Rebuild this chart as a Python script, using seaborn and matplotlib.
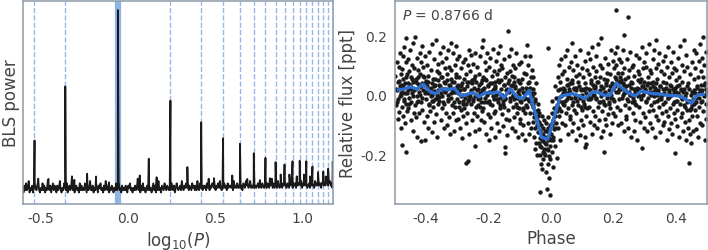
import numpy as np
import pandas as pd
import matplotlib
matplotlib.use('Agg')
import matplotlib.pyplot as plt
import seaborn as sns

BLUE = '#2f6fcf'
BAND = '#8fb5e6'
DASH = '#94b8ea'
TEXT = '#444444'
EDGE = '#8d9aa7'

# best period [days] and the multiples marked with dashed lines
period = 0.8766
harmonic_mult = [1 / 3, 1 / 2] + list(range(2, 18))
log_p_range = [np.log10(0.25), np.log10(15.0)]

# BLS noise floor (power x 80), read left -> right
bls_noise = [
    3, 1, 4, 2, 5, 2, 3, 6, 1, 3, 2, 4, 1, 3, 5, 3, 2, 4, 7, 2,
    1, 3, 2, 5, 2, 4, 1, 3, 2, 6, 3, 2, 4, 1, 3, 5, 2, 4, 3, 1,
    4, 2, 3, 6, 2, 1, 3, 2, 5, 3, 2, 5, 1, 3, 4, 2, 3, 8, 2, 3,
    1, 3, 4, 2, 3, 1, 5, 2, 4, 2, 3, 2, 5, 3, 1, 4, 2, 3, 6, 2,
    2, 4, 1, 3, 2, 5, 3, 1, 4, 3, 5, 2, 3, 1, 4, 2, 6, 3, 2, 4,
    1, 3, 2, 4, 3, 1, 3, 2, 5, 2, 3, 6, 2, 3, 1, 4, 2, 3, 2, 4,
    2, 1, 4, 3, 5, 2, 3, 1, 3, 2, 4, 2, 3, 7, 2, 3, 1, 4, 2, 5,
    2, 3, 1, 3, 4, 2, 5, 2, 3, 1, 3, 5, 2, 4, 1, 3, 2, 6, 2, 3,
    1, 4, 3, 2, 5, 3, 2, 4, 3, 2, 4, 2, 5, 3, 2, 4, 1, 3, 5, 3,
    2, 3, 4, 2, 6, 3, 2, 4, 3, 5, 3, 5, 2, 4, 3, 2, 5, 3, 4, 2,
    4, 2, 6, 3, 2, 5, 3, 4, 2, 4, 3, 4, 2, 5, 3, 7, 2, 4, 3, 5,
    5, 3, 4, 2, 4, 3, 5, 3, 6, 3, 2, 4, 3, 5, 3, 4, 2, 5, 3, 4,
    4, 3, 5, 2, 6, 3, 4, 3, 5, 3, 3, 5, 3, 4, 2, 5, 4, 3, 6, 4,
    5, 3, 4, 6, 3, 4, 3, 5, 3, 4, 3, 4, 5, 3, 6, 4, 3, 5, 4, 3,
    4, 6, 3, 5, 4, 3, 5, 4, 7, 3, 5, 3, 4, 5, 3, 6, 4, 3, 5, 4,
    3, 5, 4, 6, 4, 3, 5, 4, 3, 6, 4, 6, 3, 5, 4, 5, 3, 6, 4, 5,
    5, 4, 6, 3, 5, 4, 6, 4, 5, 3, 4, 5, 3, 6, 4, 5, 4, 3, 6, 4,
    5, 4, 6, 4, 5, 3, 5, 6, 4, 5, 4, 6, 5, 4, 5, 6, 4, 5, 3, 5,
]

# BLS spikes: log10(period) and power
peak_logp = [-0.534, -0.454, -0.358, -0.306, -0.233, -0.182, -0.107, -0.057,
             0.068, 0.120, 0.165, 0.244, 0.341, 0.420, 0.493, 0.545, 0.598,
             0.642, 0.684, 0.721, 0.756, 0.788, 0.813, 0.846, 0.875, 0.897,
             0.925, 0.943, 0.967, 0.984, 1.008, 1.022, 1.043, 1.057, 1.089,
             1.119, 1.133, 1.147, 1.173]
peak_power = [0.294, 0.086, 0.587, 0.081, 0.114, 0.099, 0.068, 1.0,
              0.105, 0.195, 0.095, 0.510, 0.150, 0.393, 0.09, 0.306, 0.105,
              0.276, 0.086, 0.225, 0.08, 0.200, 0.09, 0.177, 0.11, 0.164,
              0.11, 0.182, 0.10, 0.184, 0.11, 0.182, 0.10, 0.153, 0.123,
              0.126, 0.10, 0.141, 0.180]

# folded light curve: (phase x1000, flux x1000 ppt)
lc_points = [
    (-499, 62), (-497, -35), (-495, 110), (-494, 18), (-492, -80), (-491, 45), (-489, -12), (-488, 95),
    (-486, -58), (-485, 30), (-484, 140), (-483, -5), (-482, -110), (-481, 70), (-480, 5), (-477, -168),
    (-479, 88), (-478, -40), (-476, 25), (-475, 130), (-474, -70), (-473, 55), (-471, -15), (-470, 160),
    (-469, 8), (-468, -95), (-467, 40), (-466, 112), (-465, -30), (-464, 192), (-464, -190), (-462, 70), (-461, -55),
    (-459, 15), (-458, 120), (-457, -45), (-455, 80), (-454, -10), (-453, 150), (-452, 35), (-450, -85),
    (-449, 60), (-448, -25), (-446, 100), (-445, 5), (-443, -120), (-442, 45), (-441, 175), (-440, -60),
    (-439, 90), (-437, -35), (-436, 20), (-435, 195), (-434, -75), (-432, 55), (-431, -5), (-430, 125),
    (-429, -140), (-427, 38), (-426, -20), (-425, 85), (-423, 10), (-422, -62), (-421, 140), (-420, 28),
    (-419, 70), (-418, -25), (-416, 110), (-416, -154), (-415, 40), (-413, 165), (-412, -50), (-411, 15),
    (-409, 95), (-408, -90), (-406, 60), (-405, 5), (-404, 130), (-403, -150), (-402, 48), (-401, -15),
    (-399, 30), (-398, -70), (-397, 100), (-395, 8), (-394, -110), (-393, 65), (-391, -30), (-390, 145),
    (-389, 20), (-387, -55), (-386, 85), (-385, -5), (-383, 170), (-382, -125), (-381, 40), (-380, -20),
    (-379, 55), (-378, -40), (-376, 12), (-375, 120), (-374, -90), (-372, 35), (-371, -15), (-369, 184),
    (-368, -65), (-367, 80), (-365, 0), (-364, -140), (-363, 50), (-362, -30), (-361, 105), (-360, -8),
    (-359, 75), (-358, -20), (-356, 140), (-355, 30), (-354, -85), (-352, 60), (-351, -5), (-349, 110),
    (-348, -45), (-347, 20), (-345, 160), (-344, -110), (-343, 45), (-342, -30), (-341, 90), (-340, 10),
    (-339, 40), (-338, -60), (-337, 125), (-335, 15), (-334, -100), (-333, 70), (-331, -20), (-330, 150),
    (-329, 0), (-327, -75), (-326, 95), (-325, 30), (-323, -130), (-322, 55), (-321, -10), (-320, 175),
    (-319, 85), (-318, -35), (-316, 20), (-315, 140), (-314, -60), (-312, 45), (-311, -120), (-309, 100),
    (-308, 10), (-307, -40), (-305, 165), (-304, 60), (-303, -85), (-302, 25), (-301, 120), (-300, -15),
    (-299, 35), (-298, -80), (-296, 60), (-295, -25), (-294, 130), (-292, -110), (-291, 15), (-289, -50),
    (-288, 90), (-287, -5), (-285, -145), (-284, 40), (-283, -30), (-282, 110), (-281, -70), (-280, 20),
    (-279, 55), (-278, -45), (-276, 120), (-275, -10), (-274, -95), (-272, 70), (-271, -228), (-270, 30),
    (-269, -60), (-267, 100), (-266, -20), (-265, -221), (-264, 150), (-263, -130), (-262, 45), (-261, -5),
    (-259, 80), (-258, -30), (-256, 15), (-255, 135), (-254, -85), (-252, 50), (-251, -15), (-249, 105),
    (-248, -60), (-247, 25), (-245, -120), (-244, -170), (-243, 65), (-242, 140), (-241, -40), (-240, 0),
    (-239, 45), (-238, -70), (-236, 95), (-235, -15), (-234, 20), (-232, -115), (-231, 70), (-229, -40),
    (-228, 130), (-227, 5), (-225, -85), (-224, 40), (-223, -25), (-222, 160), (-221, -55), (-220, 15),
    (-219, 60), (-218, -45), (-217, 184), (-215, 25), (-214, -90), (-212, 110), (-211, -10), (-209, 50),
    (-208, -130), (-207, 85), (-205, -25), (-204, 140), (-203, 5), (-202, -65), (-201, 35), (-200, -150),
    (-199, 95), (-198, -20), (-196, 40), (-195, -75), (-194, 125), (-192, 10), (-191, -110), (-189, 65),
    (-188, -35), (-187, 155), (-185, -5), (-184, -60), (-183, 80), (-182, 20), (-181, -140), (-180, 45),
    (-179, 30), (-178, -55), (-176, 115), (-175, 0), (-174, -95), (-172, 70), (-171, -25), (-169, 140),
    (-168, 45), (-167, -120), (-165, 85), (-164, -10), (-163, 165), (-162, -45), (-161, 20), (-160, 100),
    (-159, 50), (-158, -65), (-156, 90), (-155, -20), (-154, -105), (-152, 35), (-151, -40), (-149, 120),
    (-148, -10), (-147, -195), (-147, -176), (-146, 60), (-145, -80), (-143, 15), (-142, -135), (-141, 75),
    (-139, 214), (-138, 40), (-137, -50), (-135, 130), (-134, 10), (-133, -85), (-131, 80), (-130, -20),
    (-129, 155), (-127, 30), (-126, -110), (-125, 65), (-123, -5), (-122, 100), (-121, -40), (-120, 45),
    (-119, 60), (-118, -75), (-116, 25), (-115, -120), (-114, 90), (-112, -30), (-111, 140), (-109, -10),
    (-108, -60), (-107, 50), (-105, -140), (-104, 15), (-103, 105), (-102, -45), (-101, 0), (-100, -95),
    (-99, 40), (-98, -80), (-96, 110), (-95, -25), (-94, -130), (-92, 55), (-91, -50), (-89, 10),
    (-88, -100), (-87, 75), (-85, -15), (-84, -150), (-83, 130), (-82, -60), (-81, 25), (-80, -35),
    (-79, 70), (-78, -40), (-77, 169), (-76, 20), (-75, -95), (-73, 100), (-72, -15), (-71, -130),
    (-69, 45), (-68, -60), (-67, 130), (-65, 5), (-64, -110), (-63, 60), (-62, -30), (-61, 85),
    (-59, 20), (-58, -90), (-57, 60), (-56, -40), (-55, -140), (-54, 5), (-53, -75), (-52, -180), (-51, -20),
    (-50, -110), (-49, 40), (-48, -160), (-47, -55), (-45, -100), (-44, -200), (-43, -30), (-42, -125), (-41, -70),
    (-39, -90), (-38, -160), (-37, -60), (-36, -200), (-35, -120), (-34, -324), (-34, -145), (-33, -230),
    (-32, -100), (-31, -175), (-30, -70), (-29, -250), (-28, -130), (-27, -190), (-26, -110), (-25, -155),
    (-24, -215), (-23, -85), (-22, -140), (-21, -180),
    (-19, -120), (-18, -200), (-17, -95), (-16, -165), (-15, -260), (-14, -140), (-13, -315), (-12, -180),
    (-11, -110), (-10, 158), (-10, -230), (-9, -150), (-8, -75), (-7, -205), (-6, -125), (-5, -280),
    (-4, -170), (-3, -100), (-2, -335), (-1, -150),
    (1, -130), (2, -60), (3, -190), (4, -100), (5, -20), (6, -240), (7, -85), (8, -150), (9, -45),
    (10, -115), (12, 30), (13, -70), (14, -170), (15, -10), (16, -95), (18, -55), (19, -210),
    (21, -40), (22, 60), (23, -110), (24, 15), (25, -70), (26, 100), (27, -20), (28, -150),
    (29, 45), (31, -55), (32, 120), (33, -5), (35, -95), (36, 70), (38, -30), (39, 25),
    (41, 80), (42, -35), (43, 20), (45, -100), (46, 130), (47, 5), (48, -60), (50, 55),
    (51, -15), (52, 150), (54, -130), (55, 35), (56, -45), (58, 95), (59, 10), (60, -80),
    (61, 40), (62, -70), (64, 110), (65, -10), (66, -120), (68, 175), (68, 50), (69, -35),
    (71, 85), (72, -95), (74, 20), (75, -50), (76, 130), (78, 0), (79, -150), (80, 65),
    (81, 25), (82, -60), (84, 100), (85, -20), (86, 45), (88, -110), (89, 70), (91, -5),
    (92, -135), (94, 150), (95, -40), (96, 15), (98, -85), (99, 90), (100, 0),
    (101, -50), (102, 60), (104, -100), (105, 20), (106, -30), (108, 115), (109, -140), (110, -176),
    (110, 40), (112, -70), (113, 5), (114, -165), (116, 85), (117, -45), (119, 140), (120, -15),
    (121, 70), (122, -40), (124, 15), (125, 120), (126, -90), (128, 50), (129, -10), (131, 160),
    (132, -130), (134, 35), (135, -55), (136, 95), (138, 0), (139, -100), (140, 60),
    (141, 25), (142, -70), (144, 130), (145, -15), (146, 80), (148, -110), (149, 45), (151, -40),
    (152, 170), (154, 10), (155, -85), (156, 100), (158, -25), (159, 60), (160, -140),
    (161, 192), (162, 30), (163, -55), (165, 90), (166, -20), (168, -120), (169, 55), (170, -190),
    (171, 5), (172, -80), (174, 125), (175, -35), (176, 40), (178, -100), (179, 75), (180, -10),
    (181, 50), (182, -65), (184, 105), (185, -25), (186, 15), (188, -130), (189, 70), (191, -45),
    (192, 150), (194, 0), (195, -95), (196, 40), (198, -15), (199, 115), (200, -60),
    (201, 90), (202, -20), (204, 140), (205, 30), (206, -70), (208, 100), (209, 284), (210, 55),
    (211, -40), (212, 160), (214, 10), (215, -100), (216, 75), (218, 120), (219, -15), (220, 45),
    (221, 60), (222, -50), (224, 110), (225, 20), (226, -95), (228, 75), (229, -10), (231, 150),
    (232, 40), (234, 200), (234, -120), (235, 5), (236, 90), (238, -35), (239, 55), (240, -70),
    (241, 30), (242, -80), (244, 120), (245, -15), (246, 60), (248, 262), (248, -110), (249, 10),
    (251, 85), (252, -45), (254, 145), (255, 0), (256, -140), (258, 45), (259, -25), (260, 95),
    (261, 40), (262, -60), (264, 100), (265, -20), (266, -120), (268, 65), (269, 10), (271, -85),
    (272, 135), (274, -35), (275, 25), (276, -150), (278, 80), (279, -5), (280, 50),
    (281, 70), (282, -40), (284, 125), (285, 15), (286, -90), (288, 55), (289, -15), (291, 160),
    (292, 30), (293, -179), (294, -60), (295, 90), (296, 0), (298, -110), (299, 45), (300, 110),
    (301, 20), (302, -75), (304, 95), (305, -25), (306, 140), (308, 35), (309, -120), (311, 60),
    (312, -10), (314, 170), (315, -55), (316, 10), (318, 85), (319, -95), (320, 40),
    (321, -35), (322, 75), (324, 10), (325, -110), (326, 120), (328, -50), (329, 45), (331, -5),
    (332, 150), (334, -140), (335, 25), (336, 184), (336, -70), (338, 90), (339, 0), (340, -20),
    (341, 55), (342, -85), (344, 105), (345, 15), (346, -40), (348, 140), (349, -125), (351, 30),
    (352, -15), (354, 80), (355, -60), (356, 0), (358, 115), (359, -100), (360, 45),
    (361, -30), (362, 70), (364, -90), (365, 20), (366, 130), (368, -55), (369, 40), (371, -150),
    (372, 95), (374, -10), (375, 160), (376, -70), (378, 10), (379, 60), (380, -115),
    (381, 35), (382, -45), (384, 110), (385, -95), (386, 0), (388, 75), (389, -130), (391, 20),
    (392, 145), (394, -25), (395, -60), (396, 90), (398, -195), (398, 10), (399, -80), (400, 50),
    (401, -20), (402, 85), (404, -105), (405, 30), (406, -50), (408, 125), (409, 5), (411, -140),
    (412, 60), (414, -30), (415, 165), (416, -75), (418, 15), (419, 100), (420, -10),
    (421, -60), (422, 45), (424, -120), (425, 10), (426, 186), (427, -35), (428, 80), (429, -90),
    (431, -5), (432, 135), (434, -150), (435, 30), (436, -50), (438, 95), (439, -20), (440, -110),
    (441, 40), (442, -85), (444, -228), (444, 20), (445, -130), (446, 70), (448, -45), (449, -160),
    (451, 10), (452, 110), (454, -70), (455, -15), (456, -120), (458, 55), (459, -30), (460, 150),
    (461, -50), (462, 90), (464, -10), (465, -115), (466, 140), (468, 25), (469, -70), (471, 60),
    (472, -140), (474, 115), (475, 5), (476, -40), (478, 170), (479, -95), (480, 35),
    (481, 80), (482, -25), (484, 125), (485, -100), (486, 15), (487, 195), (488, -55), (489, 60),
    (491, -5), (492, 100), (494, -150), (495, 40), (496, -30), (498, 145), (499, -80), (500, 10),
    # densest part of the band
    (-498, 20), (-493, -25), (-487, 48), (-482, 0), (-480, 32),
    (-478, 10), (-474, 35), (-471, -20), (-466, 60), (-462, 5),
    (-458, 40), (-454, -30), (-449, 20), (-446, 55), (-441, -5),
    (-438, 15), (-434, 45), (-429, -25), (-426, 60), (-421, 0),
    (-418, 30), (-414, -10), (-409, 65), (-405, 40), (-401, 10),
    (-398, 10), (-394, 45), (-390, -35), (-386, 25), (-382, 0),
    (-379, -20), (-375, 30), (-371, 55), (-366, -10), (-362, 15),
    (-358, 35), (-354, 5), (-350, 60), (-346, -25), (-342, 20),
    (-338, 20), (-334, 50), (-330, -15), (-326, 35), (-322, 5),
    (-318, 45), (-314, 10), (-310, -25), (-306, 70), (-302, 30),
    (-298, 5), (-294, -40), (-290, 30), (-286, 0), (-282, -20),
    (-278, 20), (-274, -30), (-270, 45), (-266, 0), (-262, -15),
    (-258, 10), (-254, 40), (-250, -20), (-246, 55), (-242, -5),
    (-238, 15), (-234, -35), (-230, 35), (-226, -10), (-222, 50),
    (-218, 20), (-214, -25), (-210, 55), (-206, 0), (-202, 30),
    (-198, 10), (-194, -30), (-190, 40), (-186, 15), (-182, -15),
    (-178, 25), (-174, -15), (-170, 50), (-166, 5), (-162, -35),
    (-158, 0), (-154, -30), (-150, 35), (-146, -15), (-142, 20),
    (-138, 15), (-134, 50), (-130, -10), (-126, 35), (-122, 0),
    (-118, -15), (-114, 30), (-110, -40), (-106, 10), (-102, 45),
    (-98, -20), (-94, 25), (-90, -45), (-86, 5), (-82, -10),
    (-78, 10), (-74, 40), (-70, -20), (-66, 25), (-62, -5),
    (-58, -30), (-54, -60), (-50, -15), (-46, -85), (-42, -50),
    (-38, -125), (-34, -170), (-30, -150), (-26, -135), (-22, -195),
    (-18, -160), (-14, -120), (-10, -185), (-6, -145), (-2, -215),
    (2, -95), (6, -140), (10, -65), (14, -110), (18, -35),
    (22, -10), (26, -45), (30, 20), (34, -25), (38, 5),
    (42, 15), (46, -20), (50, 35), (54, -5), (58, 20),
    (62, 10), (66, 40), (70, -25), (74, 25), (78, -10),
    (82, 15), (86, -35), (90, 30), (94, -10), (98, 20),
    (102, -20), (106, 15), (110, -40), (114, 25), (118, -5),
    (122, 20), (126, -15), (130, 40), (134, 0), (138, 25),
    (142, 30), (146, -10), (150, 45), (154, -25), (158, 15),
    (162, -5), (166, 25), (170, -30), (174, 10), (178, 35),
    (182, 0), (186, -30), (190, 30), (194, -10), (198, 20),
    (202, 35), (206, 60), (210, 10), (214, 45), (218, 20),
    (222, 25), (226, 50), (230, 0), (234, 35), (238, 15),
    (242, 10), (246, -20), (250, 35), (254, 0), (258, 25),
    (262, -10), (266, 20), (270, -30), (274, 15), (278, 0),
    (282, 20), (286, 45), (290, -5), (294, 30), (298, 10),
    (302, 15), (306, -20), (310, 40), (314, 5), (318, 25),
    (322, 0), (326, 30), (330, -25), (334, 15), (338, 40),
    (342, 10), (346, -15), (350, 30), (354, -5), (358, 20),
    (362, 5), (366, -25), (370, 25), (374, -10), (378, 15),
    (382, -5), (386, 30), (390, -30), (394, 10), (398, 25),
    (402, 10), (406, -20), (410, 35), (414, -5), (418, 20),
    (422, -15), (426, 20), (430, -40), (434, 5), (438, -25),
    (442, -20), (446, -50), (450, 0), (454, -35), (458, 15),
    (462, 5), (466, -25), (470, 30), (474, -10), (478, 15),
    (482, 10), (486, -20), (490, 35), (494, 0), (498, 20),
]

# binned light curve (blue line)
bin_phase = [-0.49, -0.47, -0.45, -0.43, -0.41, -0.39, -0.37, -0.35, -0.33, -0.31,
             -0.29, -0.27, -0.25, -0.23, -0.21, -0.19, -0.17, -0.15, -0.13, -0.11,
             -0.09, -0.07, -0.05, -0.03, -0.01, 0.01, 0.03, 0.05, 0.07, 0.09,
             0.11, 0.13, 0.15, 0.17, 0.19, 0.21, 0.23, 0.25, 0.27, 0.29,
             0.31, 0.33, 0.35, 0.37, 0.39, 0.41, 0.43, 0.45, 0.47, 0.49]
bin_flux = [0.017, 0.020, 0.028, 0.019, 0.036, 0.013, 0.004, 0.021, 0.017, 0.023,
            -0.003, 0.002, 0.008, -0.006, 0.008, 0.006, 0.010, -0.009, 0.021, -0.006,
            -0.012, 0.015, -0.063, -0.142, -0.148, -0.075, -0.005, 0.001, 0.004, -0.003,
            -0.012, 0.008, 0.010, -0.001, -0.001, 0.040, 0.022, 0.006, -0.003, 0.013,
            0.008, 0.004, 0.003, -0.001, -0.002, -0.003, -0.012, -0.028, 0.000, 0.002]


sns.set_theme(style='white')
plt.rcParams['font.family'] = ['DejaVu Sans']
plt.rcParams.update({
    'axes.edgecolor': EDGE,
    'axes.linewidth': 1.1,
    'axes.labelcolor': TEXT,
    'text.color': TEXT,
    'xtick.color': TEXT,
    'ytick.color': TEXT,
    'xtick.major.size': 0,
    'ytick.major.size': 0,
    'xtick.major.pad': 5,
    'ytick.major.pad': 6,
    'xtick.labelsize': 10,
    'ytick.labelsize': 10,
    'axes.labelsize': 12,
    'axes.unicode_minus': False,
})

# periodogram: noise floor on a regular grid plus the spikes
grid = np.linspace(log_p_range[0], log_p_range[1], len(bls_noise))
bls = pd.DataFrame({'logp': np.concatenate([grid, peak_logp]),
                    'power': np.concatenate([np.array(bls_noise) / 80.0, peak_power])})
bls = bls.sort_values('logp')

lc = pd.DataFrame(lc_points, columns=['phase', 'flux']) / 1000.0
binned = pd.DataFrame({'phase': bin_phase, 'flux': bin_flux})

fig = plt.figure(figsize=(7.08, 2.51), dpi=100)
ax1 = fig.add_axes([0.032, 0.183, 0.4387, 0.81])
ax2 = fig.add_axes([0.558, 0.183, 0.4403, 0.81])

# left: BLS periodogram
log_best = np.log10(period)
ax1.axvline(log_best, color=BAND, lw=4.5, zorder=0)
for m in harmonic_mult:
    ax1.axvline(np.log10(period * m), color=DASH, lw=1.0, ls='--', zorder=0)
sns.lineplot(data=bls, x='logp', y='power', ax=ax1, color='#1a1a1a', lw=1.3, sort=False)
ax1.set_xlim(*log_p_range)
ax1.set_ylim(-0.05, 1.05)
ax1.set_yticks([])
ax1.set_xticks([-0.5, 0.0, 0.5, 1.0])
ax1.set_xlabel(r'log$_{10}$($P$)', labelpad=3)
ax1.set_ylabel('BLS power', labelpad=2)

# right: folded light curve
sns.scatterplot(data=lc, x='phase', y='flux', ax=ax2, color='#1a1a1a', s=10, linewidth=0)
sns.lineplot(data=binned, x='phase', y='flux', ax=ax2, color=BLUE, lw=2.4)
ax2.set_xlim(-0.5, 0.5)
ax2.set_ylim(-0.366, 0.316)
ax2.set_xticks([-0.4, -0.2, 0.0, 0.2, 0.4])
ax2.set_yticks([-0.2, 0.0, 0.2])
ax2.set_xlabel('Phase', labelpad=3)
ax2.set_ylabel('Relative flux [ppt]', labelpad=2)
ax2.text(0.022, 0.97, r'$P$ = 0.8766 d', transform=ax2.transAxes,
         ha='left', va='top', fontsize=10)

fig.savefig('out.png', dpi=100)
